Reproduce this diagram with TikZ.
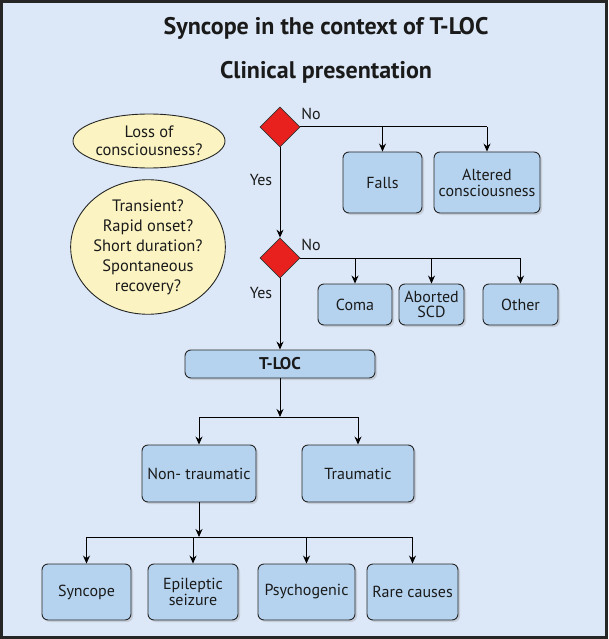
\documentclass[tikz,border=0pt]{standalone}
\usepackage{fontspec}
\setmainfont{PT Sans}
\usetikzlibrary{shapes.geometric,arrows.meta,shadows}
\definecolor{bgblue}{HTML}{DCE8F7}
\definecolor{boxblue}{HTML}{B5D3EF}
\definecolor{ellyel}{HTML}{FBF4C2}
\definecolor{dred}{HTML}{E8211F}
\definecolor{txt}{HTML}{1A1A1A}
\begin{document}
\begin{tikzpicture}[x=1pt,y=-1pt,
  every node/.style={text=txt},
  boxnode/.style={draw=black!85,line width=0.9pt,fill=boxblue,rounded corners=6pt,align=center,
     inner sep=1pt,font=\fontsize{16}{16}\selectfont,
     drop shadow={opacity=0.25,shadow xshift=2pt,shadow yshift=-2pt}},
  decide/.style={diamond,draw=black!80,line width=0.8pt,fill=dred,minimum width=40pt,minimum height=40pt,inner sep=0pt},
  question/.style={ellipse,draw=black!85,line width=0.9pt,fill=ellyel,align=center,inner sep=0pt},
  lbl/.style={font=\fontsize{16}{16}\selectfont},
  conn/.style={line width=1pt,draw=black},
  arr/.style={conn,-{Stealth[length=8pt,width=7pt]}}]
\useasboundingbox (0,0) rectangle (608,639);
\fill[bgblue] (0,0) rectangle (608,639);
\draw[line width=3pt,black!85] (1.5,1.5) rectangle (606.5,637.5);

\node[font=\fontsize{24}{26}\selectfont\bfseries] (title) at (326,28) {Syncope in the context of T-LOC};
\node[font=\fontsize{24}{26}\selectfont\bfseries] (sub) at (326,72) {Clinical presentation};

\node[question,minimum width=152pt,minimum height=54pt,font=\fontsize{16.5}{18}\selectfont] (q1) at (149,141) {Loss of\\consciousness?};
\node[question,minimum width=152pt,minimum height=117pt,font=\fontsize{16.5}{20}\selectfont] (q2) at (148,247) {Transient?\\Rapid onset?\\Short duration?\\Spontaneous\\recovery?};

\node[decide] (d1) at (280,127) {};
\node[decide] (d2) at (280,258) {};
\node[lbl] (no1) at (311,114) {No};
\node[lbl] (no2) at (311,245) {No};
\node[lbl] (yes1) at (261,180) {Yes};
\node[lbl] (yes2) at (261,293) {Yes};

\node[boxnode,minimum width=79pt,minimum height=61pt] (falls) at (382.5,182.5) {Falls};
\node[boxnode,minimum width=106pt,minimum height=61pt] (alt) at (487,182.5) {Altered\\consciousness};
\node[boxnode,minimum width=74pt,minimum height=41pt] (coma) at (355,304.5) {Coma};
\node[boxnode,minimum width=65pt,minimum height=41pt,font=\fontsize{16}{15}\selectfont] (scd) at (431.5,304.5) {Aborted\\SCD};
\node[boxnode,minimum width=75pt,minimum height=41pt] (other) at (520.5,304.5) {Other};
\node[boxnode,minimum width=190pt,minimum height=28pt,font=\fontsize{17}{17}\selectfont\bfseries] (tloc) at (280,364) {T-LOC};
\node[boxnode,minimum width=114pt,minimum height=57pt] (nontr) at (199,473.5) {Non- traumatic};
\node[boxnode,minimum width=112pt,minimum height=57pt] (tr) at (358,473.5) {Traumatic};
\node[boxnode,minimum width=89pt,minimum height=56pt] (sync) at (86.5,592) {Syncope};
\node[boxnode,minimum width=90pt,minimum height=56pt] (epi) at (193,592) {Epileptic\\seizure};
\node[boxnode,minimum width=97pt,minimum height=56pt] (psy) at (306.5,592) {Psychogenic};
\node[boxnode,minimum width=91pt,minimum height=56pt] (rare) at (412.5,592) {Rare causes};

% decision 1
\draw[conn] (d1.east) -- (d1.east -| alt.north);
\draw[arr] (d1.east -| falls.north) -- (falls.north);
\draw[arr] (d1.east -| alt.north) -- (alt.north);
\draw[arr] (d1.south) -- (d2.north);
% decision 2
\draw[conn] (d2.east) -- (d2.east -| other.north);
\draw[arr] (d2.east -| coma.north) -- (coma.north);
\draw[arr] (d2.east -| scd.north) -- (scd.north);
\draw[arr] (d2.east -| other.north) -- (other.north);
\draw[arr] (d2.south) -- (tloc.north);
% T-LOC
\coordinate (j1) at (280,417);
\draw[arr] (tloc.south) -- (j1);
\draw[conn] (j1 -| nontr.north) -- (j1 -| tr.north);
\draw[arr] (j1 -| nontr.north) -- (nontr.north);
\draw[arr] (j1 -| tr.north) -- (tr.north);
% Non-traumatic
\coordinate (j2) at (199,537);
\draw[arr] (nontr.south) -- (j2);
\draw[conn] (j2 -| sync.north) -- (j2 -| rare.north);
\draw[arr] (j2 -| sync.north) -- (sync.north);
\draw[arr] (j2 -| epi.north) -- (epi.north);
\draw[arr] (j2 -| psy.north) -- (psy.north);
\draw[arr] (j2 -| rare.north) -- (rare.north);
\end{tikzpicture}
\end{document}
